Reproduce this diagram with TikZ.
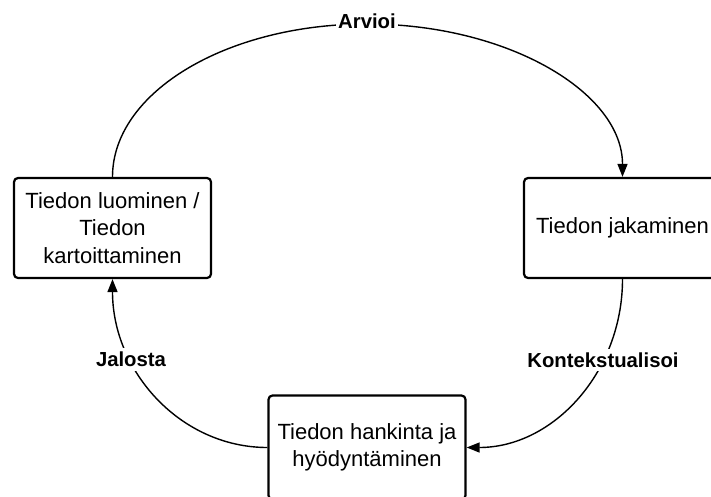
\documentclass[tikz,border=0pt]{standalone}
\usepackage{fontspec}
\setmainfont{Liberation Sans}
\usetikzlibrary{arrows.meta,calc}
\begin{document}
\begin{tikzpicture}[x=1pt,y=1pt,
  stage/.style={draw=black, line width=2.2pt, rounded corners=4pt,
    minimum width=197pt, minimum height=100pt, align=center,
    font=\fontsize{22}{27.5}\selectfont, inner sep=0pt},
  link/.style={line width=1.4pt},
  flow/.style={link, -{Triangle[length=13pt,width=10pt]}},
  verb/.style={fill=white, font=\bfseries\fontsize{20.3}{24}\selectfont,
    inner xsep=2pt, inner ysep=4pt}]
\useasboundingbox (0,0) rectangle (711,496);

% the three stages of the cycle
\node[stage] (L) at (112.5,268) {Tiedon luominen /\\Tiedon\\kartoittaminen};
\node[stage] (R) at (622.5,268) {Tiedon jakaminen};
\node[stage, minimum height=104pt] (B) at (367,48.5) {Tiedon hankinta ja\\hyödyntäminen};

% top arc, drawn as two quarter ellipses meeting at its highest point
\coordinate (peak) at (367,472);
\draw[link] (L.north) .. controls ($(L.north)+(0,84.5)$) and ($(peak)+(-140.6,0)$) .. (peak);
\draw[flow] (peak) .. controls ($(peak)+(140.6,0)$) and ($(R.north)+(0,84.5)$) .. (R.north);

% lower right and lower left quarter arcs
\draw[flow] (R.south) .. controls ($(R.south)+(0,-93)$) and ($(B.east)+(86.7,0)$) .. (B.east);
\draw[flow] (B.west) .. controls ($(B.west)+(-86.2,0)$) and ($(L.south)+(0,-93)$) .. (L.south);

% labels on the arcs
\node[verb] (arvioi) at (367,475) {Arvioi};
\node[verb] (konteksti) at (603,136) {Kontekstualisoi};
\node[verb] (jalosta) at (131,136.5) {Jalosta};
\end{tikzpicture}
\end{document}
